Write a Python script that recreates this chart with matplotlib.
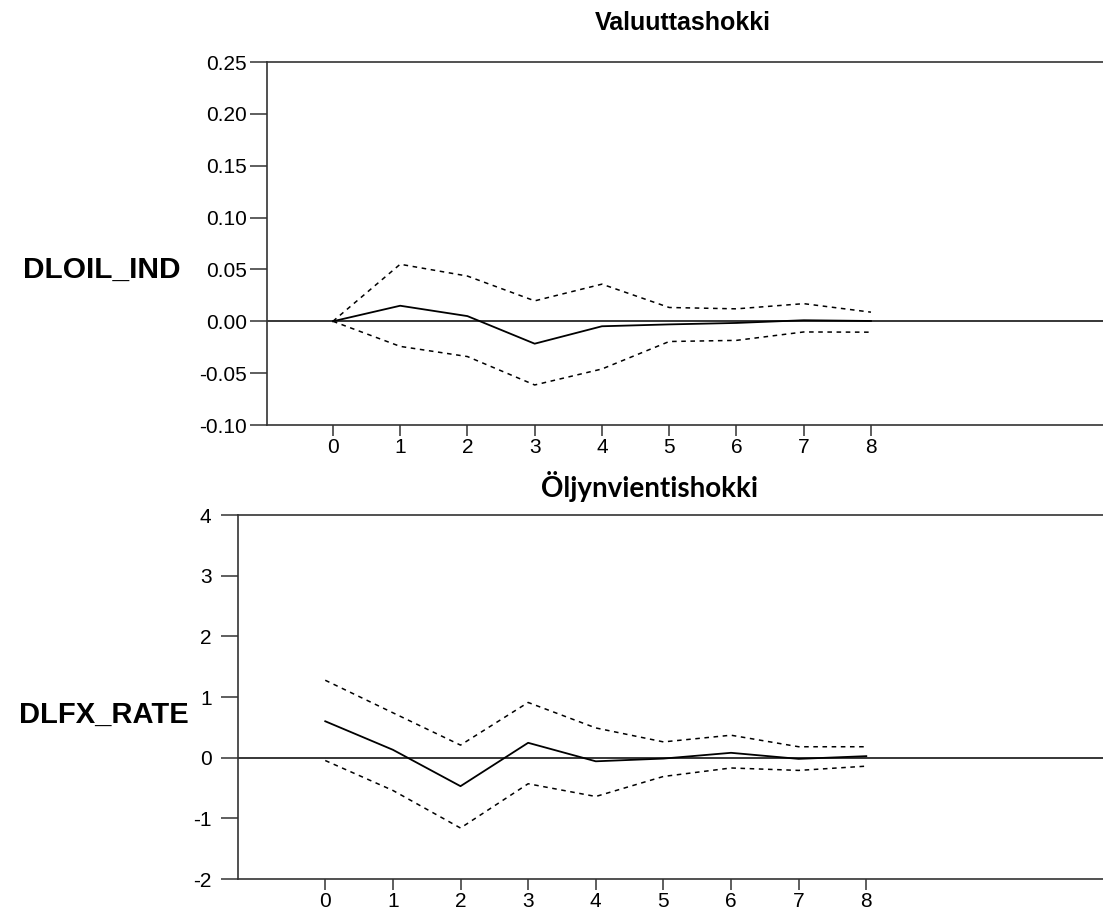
import matplotlib
matplotlib.use("Agg")
import matplotlib.pyplot as plt

# impulse responses with error bands
steps = [0, 1, 2, 3, 4, 5, 6, 7, 8]

oil_resp = [0.0, 0.015, 0.005, -0.0216, -0.0048, -0.003, -0.0016, 0.001, 0.0003]
oil_upper = [0.0, 0.055, 0.0436, 0.0197, 0.0358, 0.0133, 0.012, 0.017, 0.0088]
oil_lower = [0.0, -0.0242, -0.034, -0.0614, -0.046, -0.0195, -0.0184, -0.0103, -0.0105]

fx_resp = [0.60, 0.13, -0.47, 0.245, -0.06, -0.015, 0.08, -0.02, 0.025]
fx_upper = [1.276, 0.74, 0.207, 0.91, 0.49, 0.26, 0.37, 0.18, 0.18]
fx_lower = [-0.047, -0.54, -1.16, -0.43, -0.64, -0.31, -0.17, -0.21, -0.14]

oil_yticks = [-0.10, -0.05, 0.00, 0.05, 0.10, 0.15, 0.20, 0.25]
fx_yticks = [-2, -1, 0, 1, 2, 3, 4]

plt.rcParams['font.family'] = ['Liberation Sans', 'DejaVu Sans']

fig = plt.figure(figsize=(11.03, 9.13), dpi=100)
ax1 = fig.add_axes([267 / 1103, (913 - 425) / 913, 1 - 267 / 1103, (425 - 62) / 913])
ax2 = fig.add_axes([238 / 1103, (913 - 879) / 913, 1 - 238 / 1103, (879 - 515) / 913])


def style_axes(ax, yticks, ylim, xlim, fmt, ypad):
    ax.set_xlim(*xlim)
    ax.set_ylim(*ylim)
    ax.set_xticks(steps)
    ax.set_yticks(yticks)
    ax.set_yticklabels([fmt.format(v) for v in yticks])
    ax.spines['right'].set_visible(False)
    for s in ['left', 'top', 'bottom']:
        ax.spines[s].set_color('#333333')
        ax.spines[s].set_linewidth(1.2)
    ax.tick_params(axis='both', direction='out', width=1.1,
                   color='#333333', labelsize=15)
    ax.tick_params(axis='y', length=12, pad=ypad)
    ax.tick_params(axis='x', length=8, pad=1.5)
    ax.axhline(0, color='black', lw=1.1, zorder=1)


def draw(ax, resp, upper, lower):
    ax.plot(steps, upper, color='black', lw=1.1, linestyle=(0, (3, 3)))
    ax.plot(steps, lower, color='black', lw=1.1, linestyle=(0, (3, 3)))
    ax.plot(steps, resp, color='black', lw=1.3)


style_axes(ax1, oil_yticks, (-0.10, 0.25), (-0.98, 11.45), '{:.2f}', 2.5)
style_axes(ax2, fx_yticks, (-2, 4), (-1.29, 11.5), '{:d}', 7)
draw(ax1, oil_resp, oil_upper, oil_lower)
draw(ax2, fx_resp, fx_upper, fx_lower)

fig.text(683 / 1103, (913 - 30) / 913, 'Valuuttashokki', ha='center', va='baseline',
         fontsize=18, fontweight='bold')
fig.text(650 / 1103, (913 - 497) / 913, 'Öljynvientishokki', ha='center', va='baseline',
         fontsize=20, fontweight='bold', family=['Lato', 'DejaVu Sans'])

fig.text(180 / 1103, (913 - 270) / 913, 'DLOIL_IND', ha='right', va='center',
         fontsize=21.5, fontweight='bold')
fig.text(189 / 1103, (913 - 715) / 913, 'DLFX_RATE', ha='right', va='center',
         fontsize=21, fontweight='bold')

fig.savefig('out.png', dpi=100)
